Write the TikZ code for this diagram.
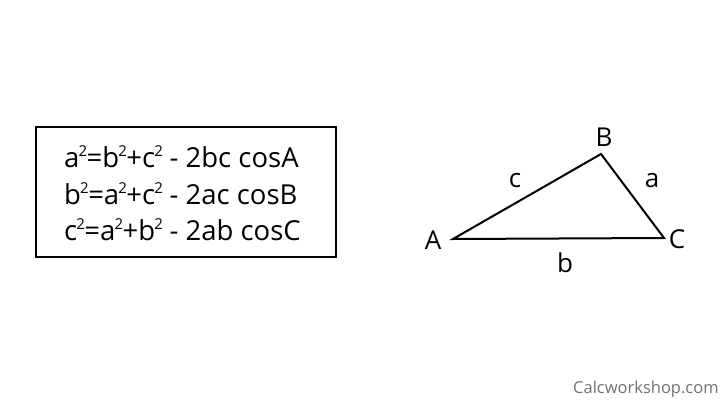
\documentclass[tikz,border=0pt]{standalone}
\usepackage{fontspec}
\setmainfont{Open Sans}
\newcommand{\sq}{\kern-0.03em\raisebox{0.40em}{\fontsize{15}{15}\selectfont 2}\kern-0.02em}
\begin{document}
\begin{tikzpicture}[x=1pt,y=-1pt,
  formula/.style={anchor=west,font=\fontsize{27.5}{30}\selectfont,inner sep=0pt},
  vlabel/.style={font=\fontsize{26}{28}\selectfont,inner sep=0pt},
  edge/.style={line width=2pt,line join=miter}]
\useasboundingbox (0,0) rectangle (720,404);
\fill[white] (0,0) rectangle (720,404);
\node[draw,line width=2pt,minimum width=300pt,minimum height=130pt,inner sep=0pt] (box) at (185.5,192) {};
\node[formula] (f1) at (64,157) {a\sq=b\sq+c\sq\ - 2bc cosA};
\node[formula] (f2) at (64,194) {b\sq=a\sq+c\sq\ - 2ac cosB};
\node[formula] (f3) at (64,230) {c\sq=a\sq+b\sq\ - 2ab cosC};
\coordinate (A) at (453,239);
\coordinate (B) at (601,154);
\coordinate (C) at (664,238);
\draw[edge] (A) -- (B) -- (C) -- cycle;
\node[vlabel] (lA) at (433,240) {A};
\node[vlabel] (lB) at (604,137) {B};
\node[vlabel] (lC) at (677,239) {C};
\node[vlabel] (la) at (652,181) {a};
\node[vlabel] (lb) at (565,263) {b};
\node[vlabel] (lc) at (515,181) {c};
\node[anchor=west,inner sep=0pt,text=black!55,font=\fontsize{16.5}{18}\selectfont] (wm) at (573,389) {Calcworkshop.com};
\end{tikzpicture}
\end{document}
